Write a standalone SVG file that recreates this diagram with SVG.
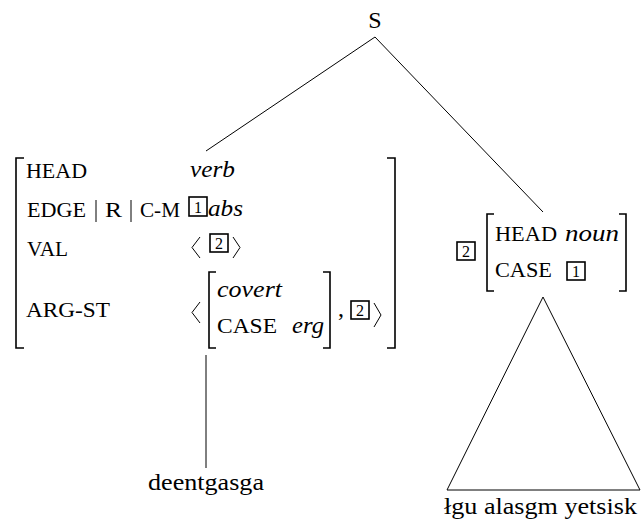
<svg xmlns="http://www.w3.org/2000/svg" width="641" height="523" viewBox="0 0 641 523" font-family="Times New Roman, Liberation Serif, Tinos, DejaVu Serif, serif">
<style>
text{fill:#000}
.sc{font-size:21px}
.it{font-size:23px;font-style:italic}
.rm{font-size:24px}
.tag{font-size:16px;text-anchor:middle}
.br{fill:none;stroke:#000;stroke-width:1.6}
.bx{fill:none;stroke:#000;stroke-width:1.6}
.ang{fill:none;stroke:#000;stroke-width:1}
.ln{fill:none;stroke:#000;stroke-width:1}
</style>
<rect width="641" height="523" fill="#fff"/>
<g id="connectors">
<line class="ln" x1="375" y1="37" x2="206" y2="151"/>
<line class="ln" x1="375" y1="37" x2="543" y2="212"/>
<line class="ln" x1="206" y1="355" x2="206" y2="468"/>
<polygon class="ln" points="543,297 447,490 640,490"/>
</g>
<g id="node-S">
<text class="rm" x="375" y="28" text-anchor="middle" font-size="26">S</text>
</g>
<g id="node-verb-avm">
<path class="br" d="M24,158 H16 V348 H24"/>
<path class="br" d="M387,158 H395 V348 H387"/>
<text class="sc" x="26" y="178" textLength="61" lengthAdjust="spacingAndGlyphs">HEAD</text>
<text class="it" x="190" y="177" textLength="45" lengthAdjust="spacingAndGlyphs">verb</text>
<text class="sc" x="27" y="217" textLength="59" lengthAdjust="spacingAndGlyphs">EDGE</text>
<line class="ln" x1="96" y1="200" x2="96" y2="222"/>
<text class="sc" x="105" y="217" textLength="17" lengthAdjust="spacingAndGlyphs">R</text>
<line class="ln" x1="131" y1="200" x2="131" y2="222"/>
<text class="sc" x="140" y="217" textLength="40" lengthAdjust="spacingAndGlyphs">C-M</text>
<rect class="bx" x="189" y="197" width="18" height="19"/>
<text class="tag" x="198" y="213">1</text>
<text class="it" x="208" y="216" textLength="35" lengthAdjust="spacingAndGlyphs">abs</text>
<text class="sc" x="27" y="256" textLength="41" lengthAdjust="spacingAndGlyphs">VAL</text>
<path class="ang" d="M200,237 L192,247.5 L200,258"/>
<rect class="bx" x="210" y="234" width="18" height="18"/>
<text class="tag" x="219" y="249">2</text>
<path class="ang" d="M233,237 L240,247.5 L233,258"/>
<text class="sc" x="26" y="317" textLength="84" lengthAdjust="spacingAndGlyphs">ARG-ST</text>
<path class="ang" d="M200,302 L192,312.5 L200,323"/>
<path class="br" d="M216,272 H209 V348 H216"/>
<text class="it" x="217" y="297" textLength="65" lengthAdjust="spacingAndGlyphs">covert</text>
<text class="sc" x="217" y="333" textLength="60" lengthAdjust="spacingAndGlyphs">CASE</text>
<text class="it" x="292" y="333" textLength="32" lengthAdjust="spacingAndGlyphs">erg</text>
<path class="br" d="M323,272 H330 V348 H323"/>
<text class="rm" x="338" y="316">,</text>
<rect class="bx" x="351" y="301" width="18" height="18"/>
<text class="tag" x="360" y="316">2</text>
<path class="ang" d="M374,303 L381,315 L374,327"/>
</g>
<g id="node-noun-avm">
<rect class="bx" x="457" y="242" width="18" height="18"/>
<text class="tag" x="466" y="257">2</text>
<path class="br" d="M494,214 H487 V291 H494"/>
<text class="sc" x="495" y="241" textLength="62" lengthAdjust="spacingAndGlyphs">HEAD</text>
<text class="it" x="565" y="241" textLength="54" lengthAdjust="spacingAndGlyphs">noun</text>
<text class="sc" x="495" y="277" textLength="57" lengthAdjust="spacingAndGlyphs">CASE</text>
<rect class="bx" x="567" y="262" width="18" height="18"/>
<text class="tag" x="576" y="277">1</text>
<path class="br" d="M619,214 H626 V291 H619"/>
</g>
<g id="leaf-deentgasga">
<text class="rm" x="148" y="490" textLength="116" lengthAdjust="spacingAndGlyphs">deentgasga</text>
</g>
<g id="leaf-lgu">
<text class="rm" x="444" y="514" textLength="193" lengthAdjust="spacingAndGlyphs">łgu alasgm yetsisk</text>
</g>
</svg>
